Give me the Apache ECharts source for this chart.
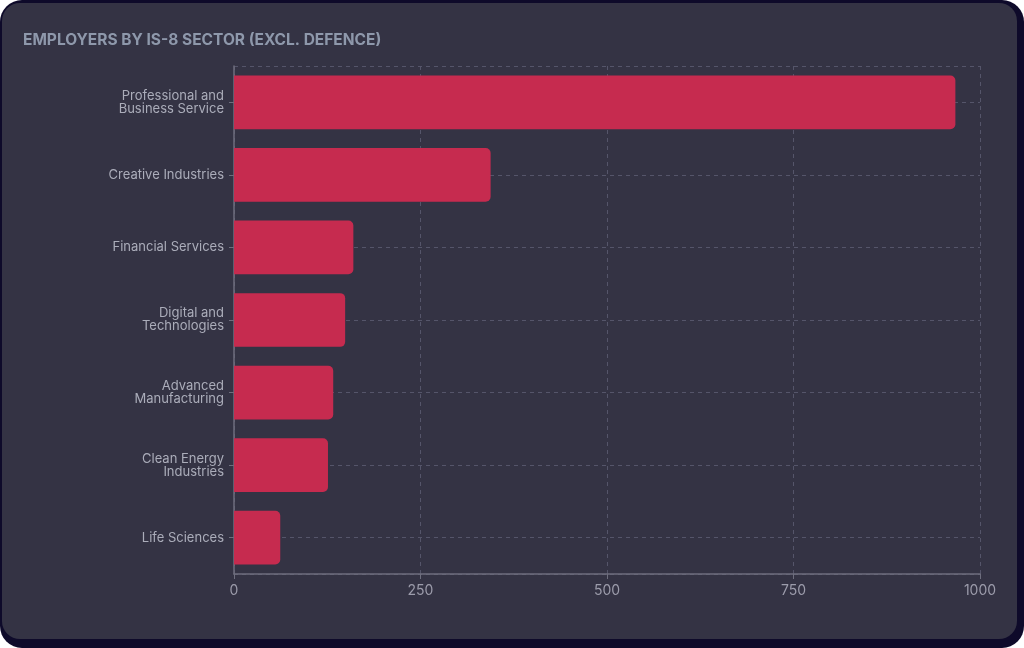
<!DOCTYPE html>
<html><head><meta charset="utf-8">
<script src="https://cdn.jsdelivr.net/npm/echarts@6/dist/echarts.min.js"></script>
<style>
html,body{margin:0;padding:0;background:#ffffff;width:1024px;height:648px;overflow:hidden;}
#frame{position:absolute;left:0;top:0;width:1024px;height:648px;background:#0e0a2a;border-radius:22px;}
#card{position:absolute;left:2px;top:3px;width:1015px;height:636px;background:#343344;border-radius:18px;}
#chart{position:absolute;left:0;top:0;width:1024px;height:648px;}
</style></head>
<body><div id="frame"></div><div id="card"></div><div id="chart"></div>
<script>
const titleText = 'EMPLOYERS BY IS-8 SECTOR (EXCL. DEFENCE)';
const categories = ['Professional and Business Service','Creative Industries','Financial Services','Digital and Technologies','Advanced Manufacturing','Clean Energy Industries','Life Sciences'];
const values = [967, 344, 160, 149, 133, 126, 62];
const xTicks = [0, 250, 500, 750, 1000];

const ctx = document.createElement('canvas').getContext('2d');
ctx.font = '13px Inter';
function wrap(s){
  const words = s.split(' '); const lines = []; let cur = '';
  words.forEach(w => {
    const t = cur ? cur + ' ' + w : w;
    if (cur && ctx.measureText(t).width > 118) { lines.push(cur); cur = w; } else cur = t;
  });
  lines.push(cur); return lines.join('\n');
}

const gridLine = {color:'#55556a', type:[4,4], width:1};
const chart = echarts.init(document.getElementById('chart'));
chart.setOption({
  backgroundColor:'transparent',
  animation:false,
  title:{text:titleText, left:18, top:27, textStyle:{color:'#8e98ab', fontSize:15.5, fontWeight:'bold', fontFamily:'Inter'}},
  grid:{left:234, right:44, top:66, bottom:74},
  xAxis:{type:'value', min:xTicks[0], max:xTicks[xTicks.length-1], interval:250,
    axisLine:{show:true, lineStyle:{color:'#6e6e7e', width:1.5}},
    axisTick:{show:true, length:5, lineStyle:{color:'#6e6e7e'}},
    axisLabel:{color:'#9c9cab', fontSize:14, fontFamily:'Inter', margin:10, formatter:v=>String(v)},
    splitLine:{show:true, lineStyle:gridLine}},
  yAxis:{type:'category', data:categories, inverse:true,
    axisLine:{show:true, lineStyle:{color:'#6e6e7e', width:1.5}},
    axisTick:{show:true, length:5, alignWithLabel:true, lineStyle:{color:'#6e6e7e'}},
    axisLabel:{color:'#abadba', fontSize:13, fontFamily:'Inter', margin:10, lineHeight:13, align:'right', formatter:wrap},
    splitLine:{show:true, interval:function(i){return i===0;}, lineStyle:gridLine}},
  series:[{type:'bar', data:values, barCategoryGap:'26%',
    itemStyle:{color:'#c62b4f', borderRadius:[0,5,5,0]},
    markLine:{silent:true, symbol:'none', label:{show:false}, lineStyle:gridLine, z:1,
      data:categories.map(c=>({yAxis:c}))}
  }]
});
</script></body></html>
